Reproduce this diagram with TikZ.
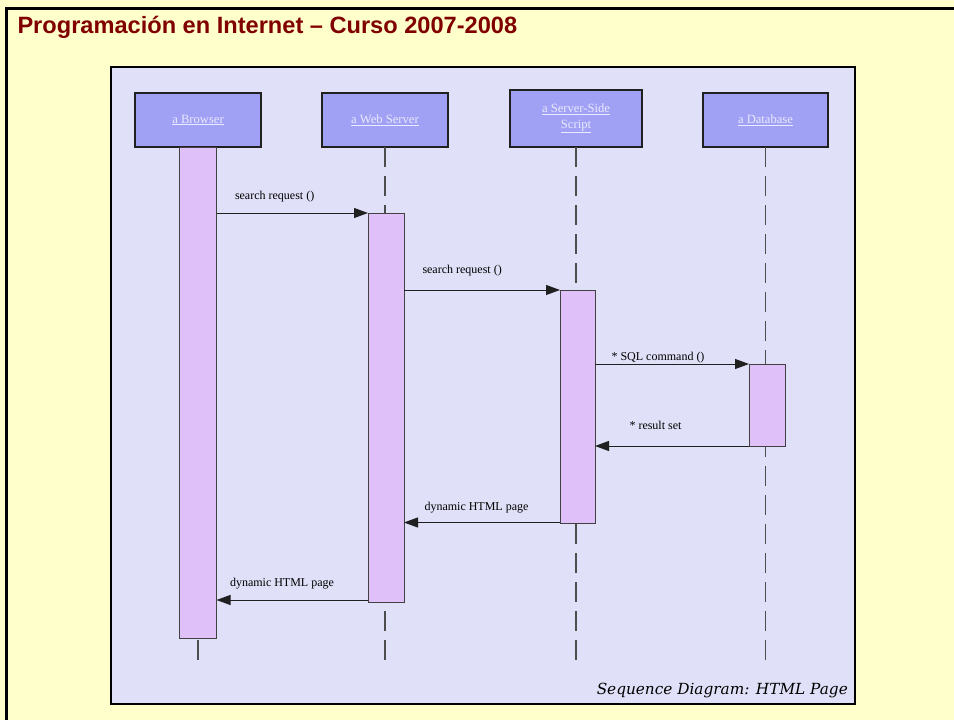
\documentclass[tikz,border=0pt]{standalone}
\usepackage{fontspec}
\setmainfont{Liberation Serif}
\setsansfont{Liberation Sans}
\newfontfamily\capfont{DejaVu Serif}
\usepackage{xcolor}
\definecolor{PageBg}{HTML}{FFFFCC}
\definecolor{PanelBg}{HTML}{E0E0F8}
\definecolor{HeadFill}{HTML}{A0A0F4}
\definecolor{ActFill}{HTML}{E0C0F8}
\definecolor{TitleRed}{HTML}{800000}
\definecolor{Ink}{HTML}{202020}
\definecolor{HeadText}{HTML}{EAEAFF}
\usetikzlibrary{arrows.meta,positioning}

\begin{document}
\begin{tikzpicture}[x=1pt,y=-1pt,
  head/.style={draw=Ink,line width=1.2pt,fill=HeadFill,minimum width=126pt,minimum height=54pt,inner sep=0pt,outer sep=0pt,align=center,text=HeadText,font=\fontsize{12.6}{15.5}\selectfont},
  act/.style={draw=Ink!85,line width=1pt,fill=ActFill,minimum width=36pt,inner sep=0pt,outer sep=0pt},
  lifeline/.style={draw=Ink!80,line width=1.1pt,dash pattern=on 20pt off 9pt},
  msg/.style={-{Triangle[length=14pt,width=10pt]},line width=1pt,draw=Ink},
  lbl/.style={anchor=base west,inner sep=0pt,font=\fontsize{12}{13}\selectfont,text=black}
]
% page and frame
\fill[PageBg] (0,0) rectangle (954,720);
\useasboundingbox (0,0) rectangle (954,720);
\draw[line width=3pt,black] (6.5,720) -- (6.5,8) -- (954,8);
\node[anchor=base west,inner sep=0pt,text=TitleRed,font=\sffamily\bfseries\fontsize{23.6}{27}\selectfont] (title) at (17.3,33.3) {Programación en Internet – Curso 2007-2008};
% diagram panel
\draw[fill=PanelBg,line width=1.2pt] (111,67) rectangle (855,704);
% objects
\node[head] (brw) at (198,120) {\underline{a Browser}};
\node[head,right=61pt of brw] (web) {\underline{a Web Server}};
\node[head,minimum width=132pt,minimum height=57pt,right=62pt of web,yshift=1.5pt] (scr) {\underline{a Server-Side}\\\underline{Script}};
\node[head,minimum width=125pt,right=61pt of scr,yshift=-1.5pt] (dbs) {\underline{a Database}};
% lifelines
\coordinate (bottom) at (0,660);
\foreach \n in {brw,web,scr,dbs}
  \draw[lifeline] (\n.south) -- (\n.south |- bottom);
% activations
\node[act,minimum width=37pt,minimum height=491pt,below=0pt of brw] (brwact) {};
\node[act,minimum height=389pt,below=66pt of web,xshift=1pt] (webact) {};
\node[act,minimum width=35pt,minimum height=233pt,below=143pt of scr,xshift=1.5pt] (scract) {};
\node[act,minimum height=82pt,below=217pt of dbs,xshift=1.5pt] (dbsact) {};
% messages
\draw[msg] (brwact.east |- webact.north) -- (webact.north west)
  node[lbl,at start,xshift=18pt,yshift=13.5pt] {search request ()};
\draw[msg] (webact.east |- scract.north) -- (scract.north west)
  node[lbl,at start,xshift=18pt,yshift=16.5pt] {search request ()};
\draw[msg] (scract.east |- dbsact.north) -- (dbsact.north west)
  node[lbl,at start,xshift=16pt,yshift=3.5pt] {* SQL command ()};
\draw[msg] (dbsact.south west) -- (scract.east |- dbsact.south)
  node[lbl,at end,xshift=34pt,yshift=16.5pt] {* result set};
\draw[msg] ([yshift=0.5pt]scract.south west) -- ([yshift=0.5pt]webact.east |- scract.south)
  node[lbl,at end,xshift=20pt,yshift=12pt] {dynamic HTML page};
\draw[msg] ([yshift=2pt]webact.south west) -- ([yshift=2pt]brwact.east |- webact.south)
  node[lbl,at end,xshift=13pt,yshift=14pt] {dynamic HTML page};
% caption
\node[anchor=base east,inner sep=0pt,font=\capfont\itshape\fontsize{15.3}{18}\selectfont] (cap) at (848,694) {Sequence Diagram: HTML Page};
\end{tikzpicture}
\end{document}
